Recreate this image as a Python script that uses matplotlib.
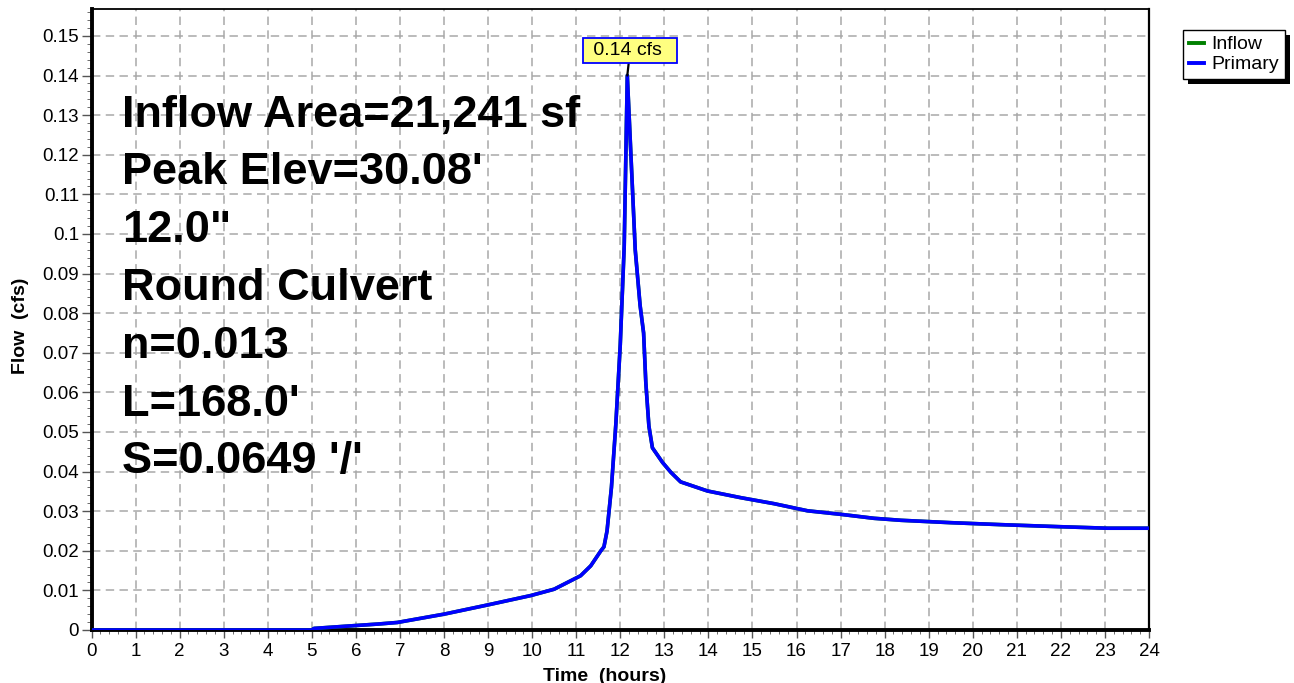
import numpy as np
import matplotlib as mpl
mpl.use('Agg')
import matplotlib.pyplot as plt
from matplotlib.patches import Rectangle
from matplotlib.ticker import MultipleLocator, FormatStrFormatter

# ----------------------------
# basic configuration
# ----------------------------
plt.rcParams['font.family'] = ['Liberation Sans', 'DejaVu Sans']

# ----------------------------
# data (read off the hydrograph)
# ----------------------------
time_hr = [0.0, 5.0, 5.05, 5.96, 6.5, 6.94, 8.0, 8.98, 9.97, 10.5, 11.1,
           11.33, 11.56, 11.63, 11.70, 11.80, 11.90, 12.0, 12.09, 12.16,
           12.34, 12.45, 12.53, 12.58, 12.65, 12.73, 12.96, 13.15, 13.37,
           13.98, 14.74, 15.49, 16.25, 17.01, 17.76, 18.37, 19.5, 20.64,
           21.93, 23.06, 24.0]
primary_cfs = [0.0, 0.0, 0.0004, 0.0011, 0.0015, 0.0019, 0.0040, 0.0063,
               0.0087, 0.0103, 0.0137, 0.0162, 0.0200, 0.0210, 0.0250,
               0.0360, 0.0520, 0.0720, 0.0970, 0.1400, 0.0960, 0.0820,
               0.0750, 0.0625, 0.0515, 0.0460, 0.0423, 0.0398, 0.0374,
               0.0351, 0.0334, 0.0319, 0.0301, 0.0292, 0.0282, 0.0277,
               0.0271, 0.0266, 0.0261, 0.0257, 0.0257]
# inflow is hidden under the primary outflow
inflow_cfs = list(primary_cfs)

peak_time = 12.16
peak_flow = 0.14
peak_label = '0.14 cfs'

info_lines = ['Inflow Area=21,241 sf', "Peak Elev=30.08'", '12.0"',
              'Round Culvert', 'n=0.013', "L=168.0'", "S=0.0649 '/'"]

# ----------------------------
# figure
# ----------------------------
W, H = 1294, 683
fig = plt.figure(figsize=(W / 100, H / 100), dpi=100)
x0, x1, y0, y1 = 91.5, 1149, 9, 630
ax = fig.add_axes([x0 / W, 1 - y1 / H, (x1 - x0) / W, (y1 - y0) / H])

ax.plot(time_hr, inflow_cfs, color='#008000', lw=2.6, label='Inflow', zorder=3)
ax.plot(time_hr, primary_cfs, color='#0000FF', lw=2.6, label='Primary', zorder=4)

ax.set_xlim(0, 24)
ax.set_ylim(0, 0.1568)

# Ticks
ax.xaxis.set_major_locator(MultipleLocator(1))
ax.xaxis.set_minor_locator(MultipleLocator(0.2))
ax.yaxis.set_major_locator(MultipleLocator(0.01))
ax.yaxis.set_minor_locator(MultipleLocator(0.002))
ax.yaxis.set_major_formatter(FormatStrFormatter('%g'))
ax.tick_params(axis='both', which='major', labelsize=13.5, colors='#555555',
               labelcolor='black', width=1)
ax.tick_params(axis='y', which='major', length=7, pad=2)
ax.tick_params(axis='y', which='minor', length=3.5, color='#555555')
ax.tick_params(axis='x', which='major', length=6, pad=3)
ax.tick_params(axis='x', which='minor', length=3, color='#555555')

# Grid
ax.grid(True, which='major', color='#A8A8A8', lw=1.1, linestyle=(0, (5.5, 3.5)))
ax.set_axisbelow(True)

# Spines
ax.spines['left'].set_linewidth(2.8)
ax.spines['bottom'].set_linewidth(2.8)
ax.spines['top'].set_linewidth(1.3)
ax.spines['right'].set_linewidth(1.6)

ax.set_xlabel('Time  (hours)', fontsize=14, fontweight='bold')
ax.set_ylabel('Flow  (cfs)', fontsize=14, fontweight='bold')
ax.xaxis.set_label_coords(0.4856, -0.0615)
ax.yaxis.set_label_coords(-0.059, 0.49)

# Info text block
for i, line in enumerate(info_lines):
    yb = 126.7 + i * 57.8
    ax.text((122 - x0) / (x1 - x0), (y1 - yb) / (y1 - y0), line,
            transform=ax.transAxes, fontsize=32.5, fontweight='bold',
            ha='left', va='baseline', zorder=2)

# Peak label
ax.annotate(' ' + peak_label + '  ', xy=(peak_time, peak_flow), xytext=(2, 18),
            textcoords='offset points', ha='center', va='center', fontsize=14,
            bbox=dict(boxstyle='square,pad=0.22', fc='#FFFF80', ec='#0000FF', lw=1.3),
            arrowprops=dict(arrowstyle='-', color='black', lw=1.6,
                            shrinkA=0, shrinkB=0), zorder=6)

# Legend with hard shadow
leg = fig.legend(loc='upper left', bbox_to_anchor=(1183 / W, 1 - 30 / H),
                 fontsize=14, frameon=True, fancybox=False, edgecolor='black',
                 facecolor='white', framealpha=1,
                 handlelength=0.8, handletextpad=0.35, borderpad=0.3,
                 labelspacing=0.12, borderaxespad=0)
leg.get_frame().set_linewidth(1.0)
for h in leg.get_lines():
    h.set_linewidth(2.8)

fig.canvas.draw()
bb = leg.get_window_extent()
fig.patches.append(Rectangle((bb.x0 + 5, bb.y0 - 5), bb.width, bb.height,
                             transform=None, fc='black', ec='none', zorder=1))

fig.savefig('out.png', dpi=100)
